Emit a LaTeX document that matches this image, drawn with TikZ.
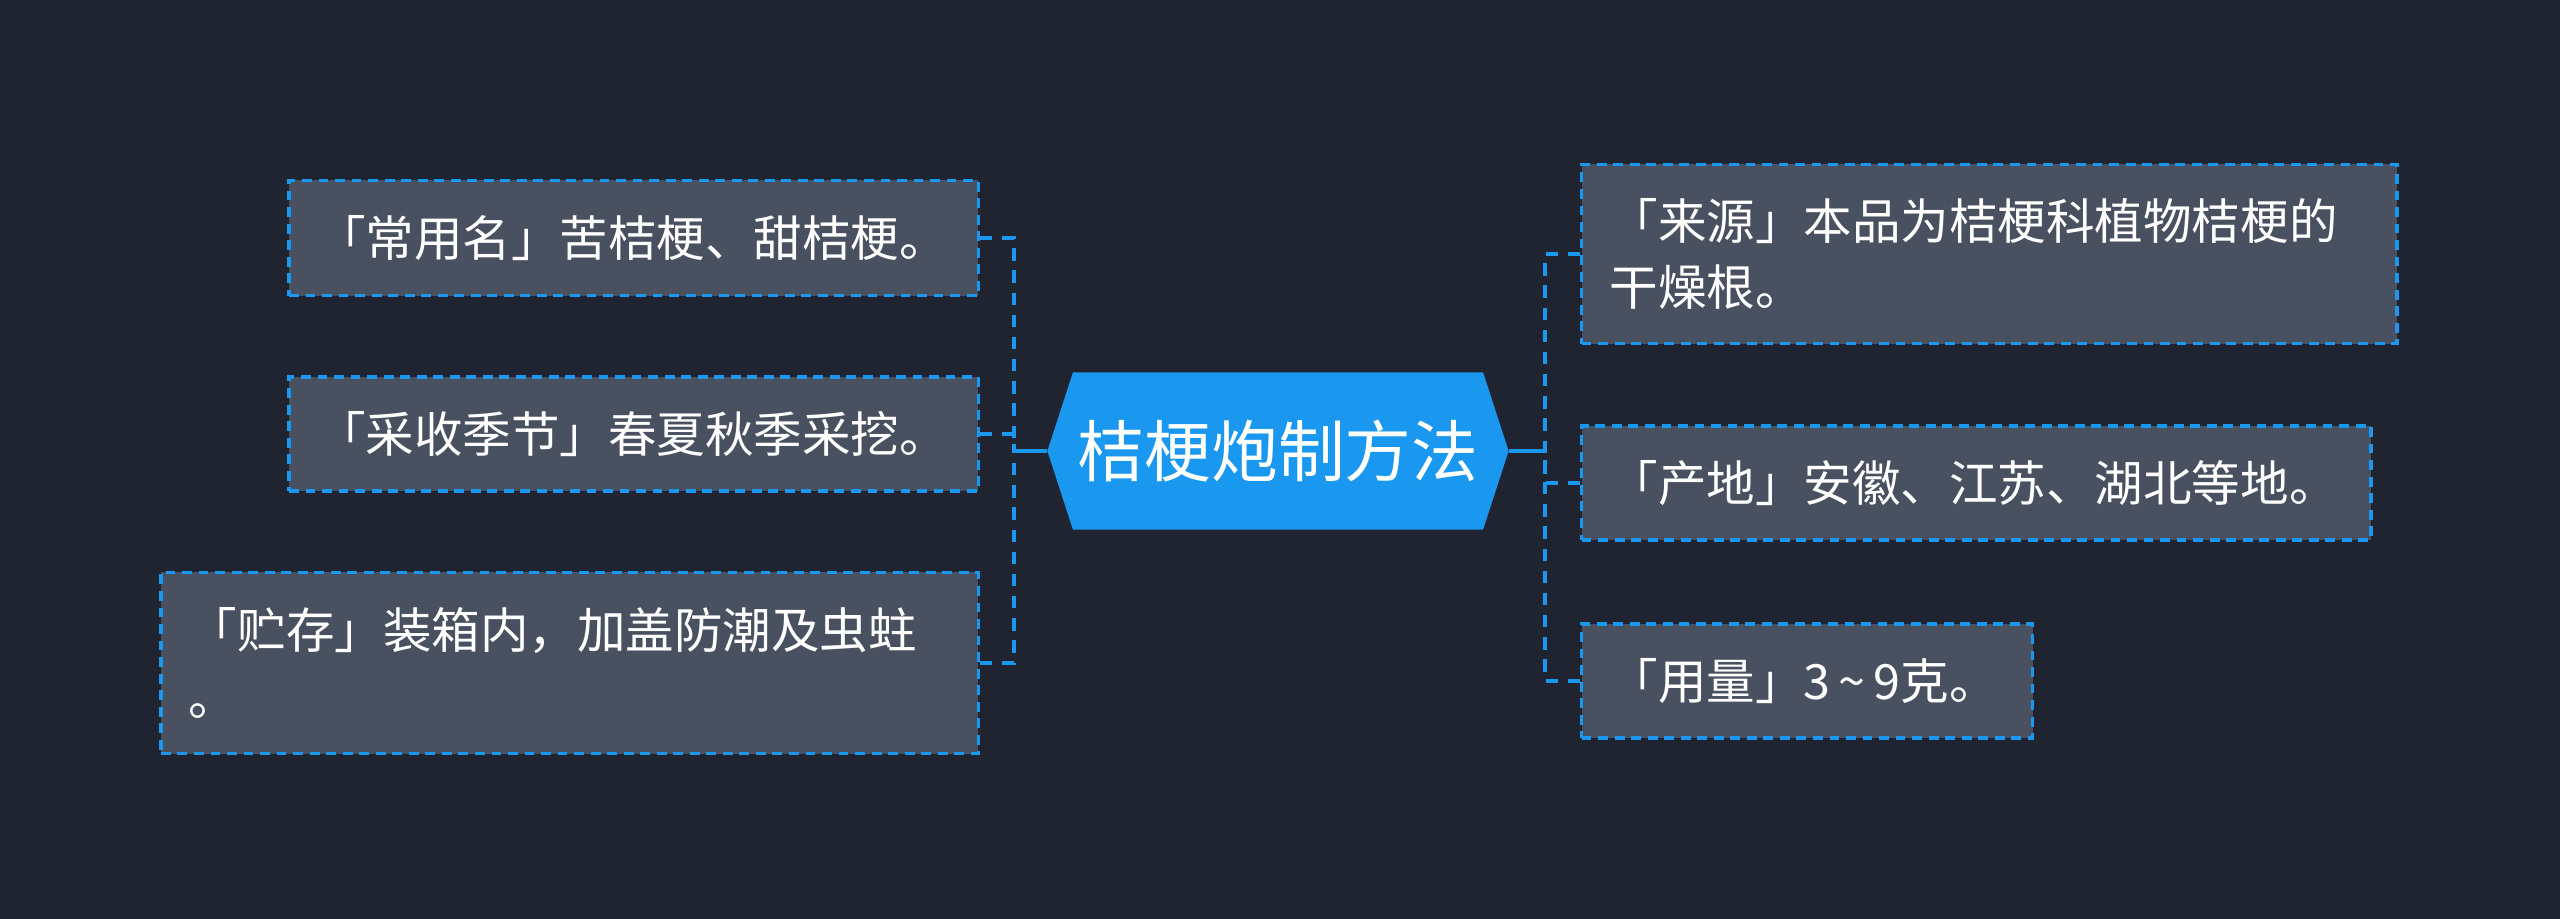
\documentclass[tikz,border=0pt]{standalone}
\usepackage{fontspec}
\setmainfont{Noto Sans CJK SC}
\usetikzlibrary{shapes.symbols}
\definecolor{mapbg}{RGB}{32,36,48}
\definecolor{mapblue}{RGB}{26,152,240}
\definecolor{mapbox}{RGB}{73,80,96}

\begin{document}
\begin{tikzpicture}[x=0.01cm, y=-0.01cm,
    topic/.style={signal, signal to=west and east, signal pointer angle=144, fill=mapblue, text=white,
      font=\fontsize{19}{23}\selectfont, minimum width=4.61cm, minimum height=1.57cm, inner sep=0pt},
    leaf/.style={draw=mapblue, dash pattern=on 2.8pt off 1.9pt, line width=0.9pt, fill=mapbox, text=white,
      font=\fontsize{13.8}{19}\selectfont, align=left, inner xsep=0.28cm, inner ysep=0pt},
    link/.style={draw=mapblue, line width=1.2pt, dash pattern=on 3.5pt off 2.8pt},
    stem/.style={draw=mapblue, line width=1.4pt}
  ]
  \fill[mapbg] (0,0) rectangle (2560,919);
  \node[topic] (root) at (1278,451) {桔梗炮制方法};
  % left branch
  \node[leaf, anchor=east, text width=6.33cm, minimum height=1.15cm] (alias) at (980,238) {「常用名」苦桔梗、甜桔梗。};
  \node[leaf, anchor=east, text width=6.33cm, minimum height=1.14cm] (harvest) at (980,434) {「采收季节」春夏秋季采挖。};
  \node[leaf, anchor=east, text width=7.61cm, minimum height=1.81cm] (storage) at (980,663) {「贮存」装箱内，加盖防潮及虫蛀\\。};
  % right branch
  \node[leaf, anchor=west, text width=7.59cm, minimum height=1.79cm] (source) at (1580,254) {「来源」本品为桔梗科植物桔梗的\\干燥根。};
  \node[leaf, anchor=west, text width=7.33cm, minimum height=1.14cm] (origin) at (1580,483) {「产地」安徽、江苏、湖北等地。};
  \node[leaf, anchor=west, text width=3.95cm, minimum height=1.14cm] (dosage) at (1580,681) {「用量」3\,\textasciitilde\,9克。};
  \foreach \leaf in {alias,harvest,storage}
    \draw[link] (\leaf.east) -- ++(34,0) |- (root.west);
  \foreach \leaf in {source,origin,dosage}
    \draw[link] (\leaf.west) -- ++(-35,0) |- (root.east);
  \draw[stem] (root.west) -- ++(-34,0);
  \draw[stem] (root.east) -- ++(36,0);
\end{tikzpicture}
\end{document}
